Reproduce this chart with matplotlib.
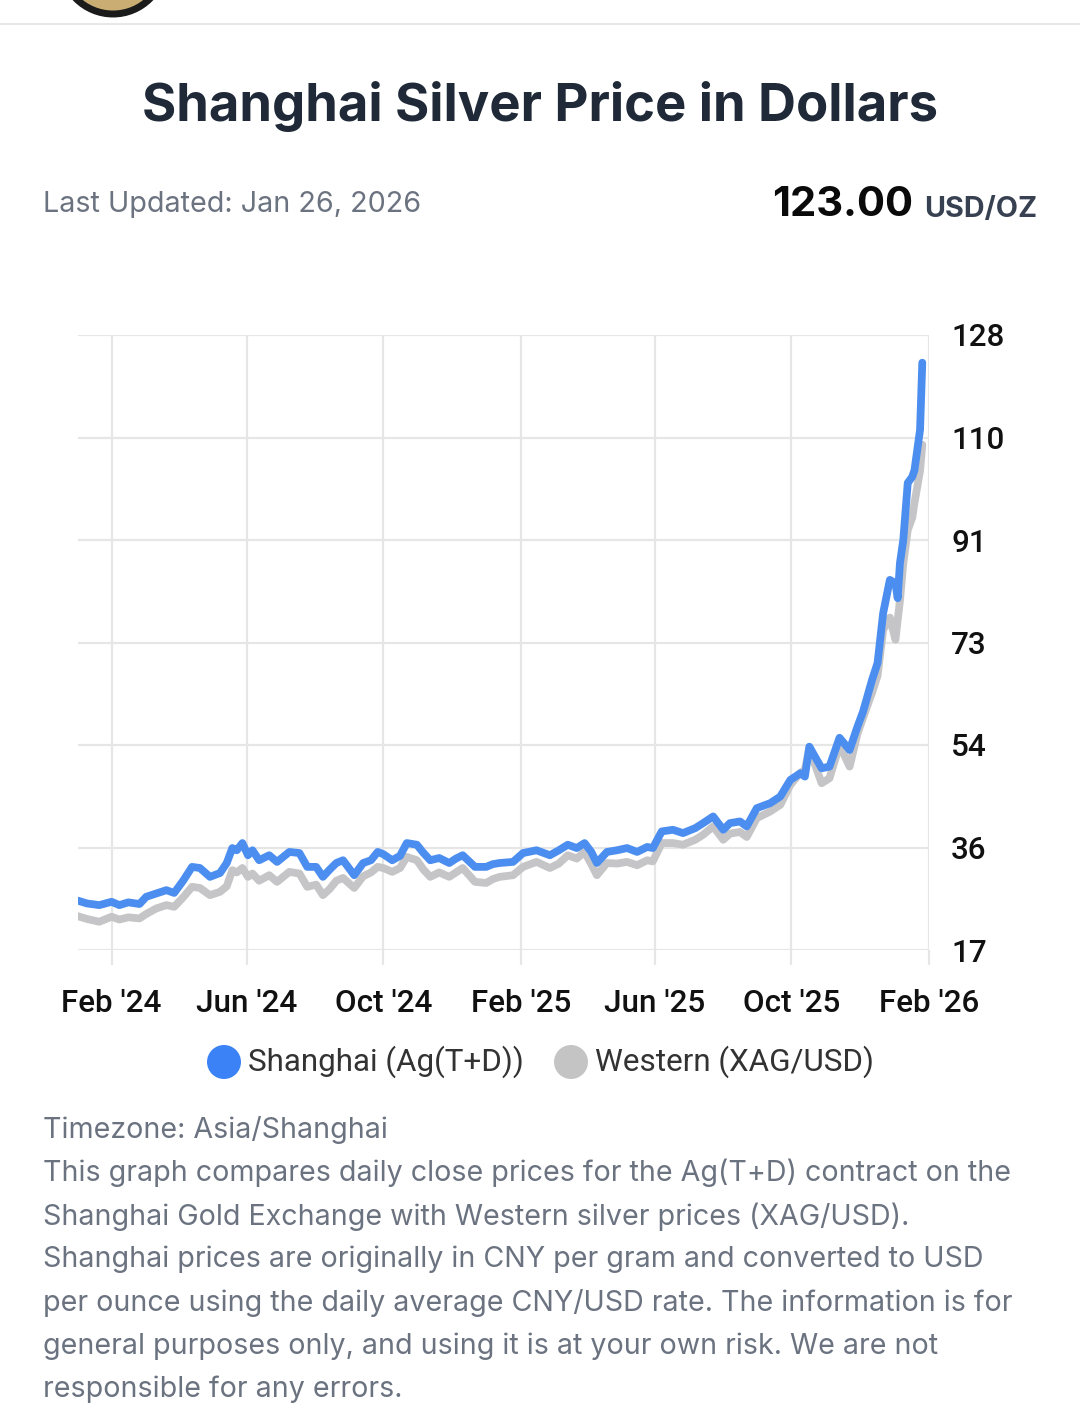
import matplotlib
matplotlib.use("Agg")
import matplotlib.pyplot as plt
from matplotlib.patches import Circle
import pandas as pd

# daily-close samples (USD/oz)
dates_2024 = ["2024-01-02", "2024-01-10", "2024-01-21",
              "2024-02-01", "2024-02-08", "2024-02-16", "2024-02-26",
              "2024-03-03", "2024-03-12", "2024-03-21", "2024-03-28",
              "2024-04-05", "2024-04-13", "2024-04-20", "2024-04-29",
              "2024-05-08", "2024-05-14", "2024-05-19", "2024-05-23", "2024-05-28",
              "2024-06-02", "2024-06-06", "2024-06-12", "2024-06-21", "2024-06-28",
              "2024-07-09", "2024-07-18", "2024-07-25",
              "2024-08-02", "2024-08-08", "2024-08-14", "2024-08-20", "2024-08-26",
              "2024-09-05", "2024-09-13", "2024-09-20", "2024-09-26",
              "2024-10-01", "2024-10-09", "2024-10-16", "2024-10-22", "2024-10-31",
              "2024-11-06", "2024-11-12", "2024-11-20", "2024-11-29",
              "2024-12-05", "2024-12-11", "2024-12-22"]
dates_2025 = ["2025-01-01", "2025-01-07", "2025-01-13", "2025-01-25",
              "2025-02-03", "2025-02-15", "2025-02-27",
              "2025-03-07", "2025-03-15", "2025-03-23", "2025-03-30",
              "2025-04-05", "2025-04-10", "2025-04-19", "2025-04-28",
              "2025-05-07", "2025-05-16", "2025-05-25", "2025-05-30",
              "2025-06-07", "2025-06-17", "2025-06-26",
              "2025-07-07", "2025-07-14", "2025-07-23",
              "2025-08-01", "2025-08-07", "2025-08-16", "2025-08-22", "2025-08-31",
              "2025-09-12", "2025-09-21", "2025-09-30",
              "2025-10-09", "2025-10-13", "2025-10-17", "2025-10-22", "2025-10-28",
              "2025-11-04", "2025-11-13", "2025-11-22", "2025-11-29",
              "2025-12-04", "2025-12-12", "2025-12-17", "2025-12-22", "2025-12-28"]
dates_2026 = ["2026-01-02", "2026-01-04", "2026-01-06", "2026-01-09", "2026-01-13",
              "2026-01-17", "2026-01-19", "2026-01-24", "2026-01-26"]

shanghai_2024 = [25.9, 25.4, 25.1,
                 25.7, 25.1, 25.6, 25.3,
                 26.6, 27.2, 27.8, 27.3,
                 29.5, 32.0, 31.8, 30.2,
                 30.9, 32.7, 35.4, 35.0, 36.3,
                 34.1, 35.0, 33.2, 34.1, 32.9,
                 34.7, 34.5, 32.0,
                 32.0, 30.2, 31.5, 32.7, 33.2,
                 30.5, 32.7, 33.2, 34.7,
                 34.3, 33.2, 34.0, 36.3, 36.0,
                 34.5, 33.2, 33.6, 32.7,
                 33.5, 34.1, 32.0]
shanghai_2025 = [32.0, 32.5, 32.7, 32.9,
                 34.5, 35.0, 34.1,
                 35.0, 36.0, 35.4, 36.3,
                 34.7, 32.7, 34.7, 35.0,
                 35.4, 34.7, 35.6, 35.4,
                 38.4, 38.7, 38.1,
                 39.0, 39.9, 41.1,
                 38.7, 39.9, 40.2, 39.3, 42.6,
                 43.5, 44.7, 47.7,
                 48.9, 48.3, 53.7, 51.9, 49.8,
                 50.1, 55.3, 53.1, 57.3,
                 60.0, 65.7, 68.8, 77.8, 83.8]
shanghai_2026 = [83.2, 80.5, 86.8, 91.0, 101.3, 102.4, 103.6, 110.9, 123.0]

western_2024 = [23.1, 22.6, 22.1,
                23.0, 22.5, 22.9, 22.7,
                23.5, 24.5, 25.1, 24.8,
                26.5, 28.4, 28.2, 26.9,
                27.5, 28.5, 31.4, 31.0, 31.8,
                30.2, 30.8, 29.5, 30.5, 29.3,
                31.1, 30.8, 28.4,
                28.8, 26.9, 28.0, 29.5, 30.0,
                28.2, 30.3, 31.0, 32.0,
                31.8, 31.1, 31.8, 33.8, 33.2,
                31.5, 30.2, 31.0, 30.2,
                31.0, 31.8, 29.3]
western_2025 = [29.1, 29.8, 30.2, 30.5,
                32.0, 32.9, 31.8,
                32.6, 34.1, 33.5, 34.7,
                32.5, 30.5, 32.7, 32.6,
                32.9, 32.3, 33.2, 33.0,
                36.3, 36.3, 36.0,
                36.9, 37.8, 39.3,
                36.9, 38.0, 38.3, 37.4, 40.8,
                42.0, 43.2, 46.8,
                49.0, 49.5, 53.5, 50.5, 47.1,
                48.0, 54.0, 50.1, 56.0,
                58.9, 63.4, 66.5, 74.8, 77.0]
western_2026 = [73.0, 76.6, 80.0, 86.8, 92.8, 95.0, 97.7, 103.5, 108.2]

dates = pd.to_datetime(dates_2024 + dates_2025 + dates_2026)
shanghai = shanghai_2024 + shanghai_2025 + shanghai_2026
western = western_2024 + western_2025 + western_2026

tick_dates = pd.to_datetime(["2024-02-01", "2024-06-01", "2024-10-01", "2025-02-01",
                             "2025-06-01", "2025-10-01", "2026-02-01"])
tick_labels = ["Feb '24", "Jun '24", "Oct '24", "Feb '25", "Jun '25", "Oct '25", "Feb '26"]
y_ticks = [17, 35.5, 54, 72.5, 91, 109.5, 128]
y_labels = ["17", "36", "54", "73", "91", "110", "128"]

W, H = 1080, 1427
fig = plt.figure(figsize=(W / 100, H / 100), dpi=100)
fig.patch.set_facecolor("white")


def fx(x):
    return x / W


def fy(y):
    return 1 - y / H


# header bits: logo edge and separator
fig.add_artist(Circle((113 / 100, (H + 38) / 100), 0.52, transform=fig.dpi_scale_trans,
                      facecolor="#c9ad72", edgecolor="#1b1b1b", linewidth=5))
fig.add_artist(plt.Line2D([0, 1], [fy(24), fy(24)], color="#e8e8e8", linewidth=1.5))

fig.text(0.5, fy(107), "Shanghai Silver Price in Dollars", ha="center", va="center",
         fontsize=37.8, fontweight="bold", family="Inter", color="#1f2937")
fig.text(fx(43), fy(205), "Last Updated: Jan 26, 2026", ha="left", va="center",
         fontsize=20.7, family="Inter", color="#6b7280")
fig.text(fx(913), fy(205), "123.00", ha="right", va="center",
         fontsize=30, fontweight="bold", family="Inter", color="#0a0a0a")
fig.text(fx(1037), fy(209), "USD/OZ", ha="right", va="center",
         fontsize=20.7, fontweight="bold", family="Inter", color="#374151")

ax = fig.add_axes([fx(78), fy(950), (929 - 78) / W, 615 / H])
ax.plot(dates, shanghai, color="#4c8ef0", linewidth=5.6, solid_joinstyle="round",
        solid_capstyle="round", zorder=3)
ax.plot(dates, western, color="#c5c5c7", linewidth=5.6, solid_joinstyle="round",
        solid_capstyle="round", zorder=2)

ax.set_xlim(dates[0], tick_dates[-1])
ax.set_ylim(17, 128)
ax.set_xticks(tick_dates)
ax.set_xticklabels(tick_labels)
ax.set_yticks(y_ticks)
ax.set_yticklabels(y_labels)
ax.yaxis.tick_right()
ax.grid(True, color="#e6e6e6", linewidth=1.6, zorder=0)
ax.set_axisbelow(True)
for s in ax.spines.values():
    s.set_visible(False)
ax.tick_params(axis="x", length=11, width=1.6, color="#e6e6e6", pad=17)
ax.tick_params(axis="y", length=0, pad=16)
for lab in ax.get_xticklabels() + ax.get_yticklabels():
    lab.set_family("Roboto")
    lab.set_fontsize(22.6)
    lab.set_fontweight("medium")
    lab.set_color("#111111")

# legend
for cx, col, txt in [(224, "#3b82f6", "Shanghai (Ag(T+D))"), (571, "#c4c4c4", "Western (XAG/USD)")]:
    fig.add_artist(Circle((cx / 100, (H - 1062) / 100), 0.17, transform=fig.dpi_scale_trans,
                          facecolor=col, edgecolor="none"))
    fig.text(fx(cx + 24), fy(1062), txt, ha="left", va="center", fontsize=22.6,
             family="Roboto", color="#333333")

notes = ["Timezone: Asia/Shanghai",
         "This graph compares daily close prices for the Ag(T+D) contract on the",
         "Shanghai Gold Exchange with Western silver prices (XAG/USD).",
         "Shanghai prices are originally in CNY per gram and converted to USD",
         "per ounce using the daily average CNY/USD rate. The information is for",
         "general purposes only, and using it is at your own risk. We are not",
         "responsible for any errors."]
for i, line in enumerate(notes):
    fig.text(fx(43), fy(1130 + 43.2 * i), line, ha="left", va="center",
             fontsize=20.6, family="Inter", color="#6b7280")

fig.savefig("out.png", dpi=100, facecolor="white")
